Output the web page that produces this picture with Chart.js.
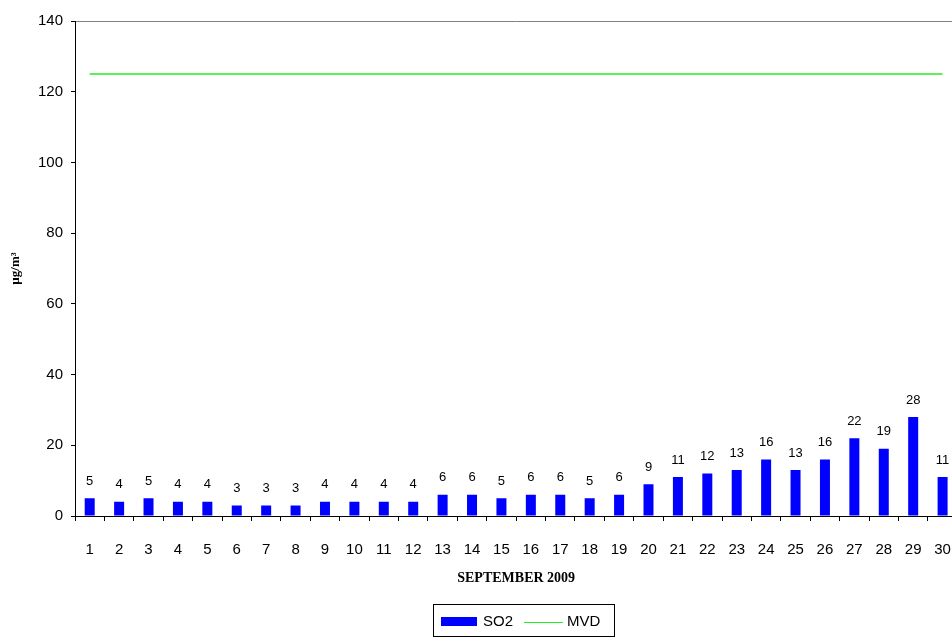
<!DOCTYPE html>
<html>
<head>
<meta charset="utf-8">
<script src="https://cdn.jsdelivr.net/npm/chart.js@4/dist/chart.umd.min.js"></script>
<style>
  html, body { margin: 0; padding: 0; background: #fff; overflow: hidden; }
  #wrap { width: 971px; height: 637px; }
</style>
</head>
<body>
<div id="wrap"><canvas id="grafico" width="971" height="637"></canvas></div>
<script>
// dados do gráfico
const dias = ['1','2','3','4','5','6','7','8','9','10','11','12','13','14','15',
  '16','17','18','19','20','21','22','23','24','25','26','27','28','29','30'];
const so2 = [5, 4, 5, 4, 4, 3, 3, 3, 4, 4, 4, 4, 6, 6, 5, 6, 6, 5, 6, 9, 11, 12, 13, 16, 13, 16, 22, 19, 28, 11];
const mvd = [125, 125, 125, 125, 125, 125, 125, 125, 125, 125, 125, 125, 125, 125, 125,
  125, 125, 125, 125, 125, 125, 125, 125, 125, 125, 125, 125, 125, 125, 125];
const yMin = 0;
const yMax = 140;
const yPasso = 20;

const fonte = '"Liberation Sans", Arial, sans-serif';
const fonteTitulo = '"Liberation Serif", "Times New Roman", serif';

// valores acima das barras (dataset 1 = SO2)
const rotulosBarras = {
  id: 'rotulosBarras',
  afterDatasetsDraw(chart) {
    const ctx = chart.ctx;
    const meta = chart.getDatasetMeta(1);
    ctx.save();
    ctx.font = '13px ' + fonte;
    ctx.fillStyle = '#000';
    ctx.textAlign = 'center';
    ctx.textBaseline = 'middle';
    meta.data.forEach((barra, i) => {
      ctx.fillText(String(so2[i]), barra.x, barra.y - 17);
    });
    ctx.restore();
  }
};

// legenda com moldura, no estilo do Excel
const legendaCaixa = {
  id: 'legendaCaixa',
  afterDraw(chart) {
    const ctx = chart.ctx;
    const linha = chart.data.datasets[0];
    const barras = chart.data.datasets[1];
    const x0 = 433, y0 = 604, w = 181, h = 32;
    const cy = y0 + 18;
    ctx.save();
    ctx.strokeStyle = '#000';
    ctx.lineWidth = 1;
    ctx.strokeRect(x0 + 0.5, y0 + 0.5, w, h);
    ctx.font = '15px ' + fonte;
    ctx.textBaseline = 'middle';
    // SO2
    ctx.fillStyle = barras.backgroundColor;
    ctx.fillRect(441, cy - 5, 36, 9);
    ctx.fillStyle = '#000';
    ctx.fillText(barras.label, 483, cy);
    // MVD
    ctx.strokeStyle = linha.borderColor;
    ctx.beginPath();
    ctx.moveTo(524, cy + 0.5);
    ctx.lineTo(563, cy + 0.5);
    ctx.stroke();
    ctx.fillText(linha.label, 567, cy);
    ctx.restore();
  }
};

new Chart(document.getElementById('grafico'), {
  type: 'bar',
  data: {
    labels: dias,
    datasets: [
      {
        type: 'line',
        label: 'MVD',
        data: mvd,
        borderColor: '#22ee22',
        borderWidth: 1.5,
        pointRadius: 0,
        fill: false,
        order: 0
      },
      {
        label: 'SO2',
        data: so2,
        backgroundColor: '#0000ff',
        borderWidth: 0,
        barPercentage: 0.34,
        categoryPercentage: 1,
        order: 1
      }
    ]
  },
  options: {
    responsive: false,
    animation: false,
    layout: { padding: { top: 21, right: 4, bottom: 44, left: 0 } },
    plugins: {
      legend: { display: false },
      tooltip: { enabled: false }
    },
    scales: {
      x: {
        offset: true,
        grid: {
          offset: true,
          drawOnChartArea: false,
          tickColor: '#000',
          tickLength: 5
        },
        border: { color: '#000' },
        ticks: {
          color: '#000',
          font: { family: fonte, size: 15 },
          padding: 20,
          maxRotation: 0,
          autoSkip: false
        },
        title: {
          display: true,
          text: 'SEPTEMBER 2009',
          color: '#000',
          font: { family: fonteTitulo, size: 14, weight: 'bold' },
          padding: { top: 4, bottom: 6 }
        },
        afterFit: s => { s.height = 77; }
      },
      y: {
        min: yMin,
        max: yMax,
        ticks: {
          stepSize: yPasso,
          color: '#000',
          font: { family: fonte, size: 15 },
          padding: 8
        },
        grid: {
          color: c => (c.tick && c.tick.value === yMax ? '#808080' : 'transparent'),
          tickColor: '#000',
          tickLength: 4
        },
        border: { color: '#000' },
        title: {
          display: true,
          text: 'µg/m³',
          color: '#000',
          font: { family: fonteTitulo, size: 13, weight: 'bold' },
          padding: { top: 8, bottom: 0 }
        },
        afterFit: s => { s.width = 75; }
      }
    }
  },
  plugins: [rotulosBarras, legendaCaixa]
});
</script>
</body>
</html>
